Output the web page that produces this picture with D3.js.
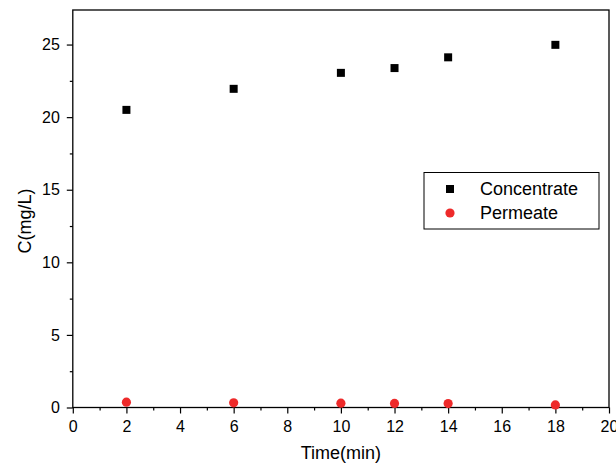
<!DOCTYPE html>
<html><head><meta charset="utf-8">
<script src="https://cdn.jsdelivr.net/npm/d3@7"></script>
<style>body{margin:0;background:#fff}svg{display:block}text{font-family:"Liberation Sans",Arial,sans-serif;fill:#000}</style>
</head><body>
<script>
const times = [2, 6, 10, 12, 14, 18];
const concentrate = [20.5, 21.95, 23.05, 23.38, 24.12, 24.98];
const permeate = [0.37, 0.32, 0.3, 0.28, 0.27, 0.18];
const xTicks = [0, 2, 4, 6, 8, 10, 12, 14, 16, 18, 20];
const yTicks = [0, 5, 10, 15, 20, 25];
const seriesNames = ["Concentrate", "Permeate"];

const W = 616, H = 468;
const L = 72.8, R = 609, T = 10, B = 407.5;
const svg = d3.select("body").append("svg").attr("width", W).attr("height", H);
const x = d3.scaleLinear().domain([0, 20]).range([L, R]);
const y = d3.scaleLinear().domain([0, 27.38]).range([B, T]);

// frame
svg.append("rect").attr("x", L).attr("y", T).attr("width", R - L).attr("height", B - T)
  .attr("fill", "none").attr("stroke", "#000").attr("stroke-width", 1.3);

// x axis
const xa = svg.append("g").attr("transform", `translate(0,${B})`)
  .call(d3.axisBottom(x).tickValues(xTicks).tickSize(6).tickPadding(7).tickFormat(d3.format("d")));
xa.select(".domain").remove();
xa.selectAll("line").attr("stroke-width", 1.2);
xa.selectAll("text").style("font-size", "16px");
const xm = svg.append("g").attr("transform", `translate(0,${B})`)
  .call(d3.axisBottom(x).tickValues(d3.range(1, 20, 2)).tickSize(3).tickFormat(""));
xm.select(".domain").remove();
xm.selectAll("line").attr("stroke-width", 1.2);

// y axis
const ya = svg.append("g").attr("transform", `translate(${L},0)`)
  .call(d3.axisLeft(y).tickValues(yTicks).tickSize(6).tickPadding(7).tickFormat(d3.format("d")));
ya.select(".domain").remove();
ya.selectAll("line").attr("stroke-width", 1.2);
ya.selectAll("text").style("font-size", "16px");
const ym = svg.append("g").attr("transform", `translate(${L},0)`)
  .call(d3.axisLeft(y).tickValues([2.5, 7.5, 12.5, 17.5, 22.5]).tickSize(3).tickFormat(""));
ym.select(".domain").remove();
ym.selectAll("line").attr("stroke-width", 1.2);

// axis labels
svg.append("text").attr("x", (L + R) / 2).attr("y", 459).attr("text-anchor", "middle")
  .style("font-size", "18px").text("Time(min)");
svg.append("text").attr("transform", `translate(31,${221}) rotate(-90)`).attr("text-anchor", "middle")
  .style("font-size", "18px").text("C(mg/L)");

// data
const sq = 8;
svg.append("g").selectAll("rect").data(times).join("rect")
  .attr("x", (d, i) => x(d) - sq / 2).attr("y", (d, i) => y(concentrate[i]) - sq / 2)
  .attr("width", sq).attr("height", sq).attr("fill", "#000");
svg.append("g").selectAll("circle").data(times).join("circle")
  .attr("cx", d => x(d)).attr("cy", (d, i) => y(permeate[i])).attr("r", 4.6).attr("fill", "#ee2a2a");

// legend
const lg = svg.append("g");
lg.append("rect").attr("x", 424).attr("y", 172.5).attr("width", 175).attr("height", 56.5)
  .attr("fill", "#fff").attr("stroke", "#000").attr("stroke-width", 1);
lg.append("rect").attr("x", 450 - sq / 2).attr("y", 189 - sq / 2).attr("width", sq).attr("height", sq).attr("fill", "#000");
lg.append("circle").attr("cx", 450).attr("cy", 213).attr("r", 4.6).attr("fill", "#ee2a2a");
lg.append("text").attr("x", 480).attr("y", 195).style("font-size", "18px").text(seriesNames[0]);
lg.append("text").attr("x", 480).attr("y", 218.5).style("font-size", "18px").text(seriesNames[1]);
</script>
</body></html>
